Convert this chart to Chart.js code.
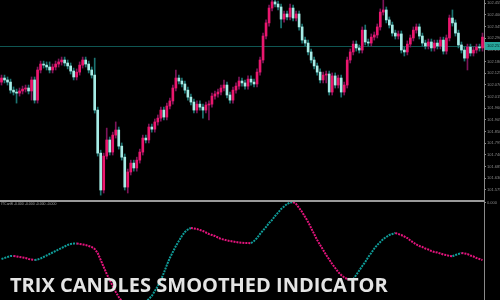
<!DOCTYPE html>
<html>
<head>
<meta charset="utf-8">
<script src="https://cdn.jsdelivr.net/npm/chart.js@4.4.0/dist/chart.umd.min.js"></script>
<style>
  html, body { margin: 0; padding: 0; background: #000; }
  #wrap { position: relative; width: 500px; height: 300px; overflow: hidden; background: #000; }
  #price { position: absolute; left: 0; top: 0; }
  #trix { position: absolute; left: 0; top: 200px; }
  #trix-label { position: absolute; left: 1px; top: 202px; font: 3.5px 'Liberation Sans', sans-serif; color: #a0a0a0; white-space: nowrap; }
  #caption { position: absolute; left: 10px; top: 275px; font: bold 20px 'Open Sans', sans-serif; line-height: 20px; color: #e4e4e4; letter-spacing: 0; white-space: nowrap; }
</style>
</head>
<body>
<div id="wrap">
  <canvas id="price" width="500" height="200"></canvas>
  <canvas id="trix" width="500" height="100"></canvas>
  <div id="trix-label">ITCanB -0.000 -0.000 -0.000 -0.000</div>
  <div id="caption">TRIX CANDLES SMOOTHED INDICATOR</div>
</div>
<script>
// price candles (one per bar, left to right)
const firstOpen = 102.083;
const closes = [
  102.102, 102.093, 102.083, 102.045, 102.036, 102.031, 102.041, 102.050, 102.055, 102.041,
  102.093, 101.998, 102.140, 102.168, 102.163, 102.154, 102.140, 102.154, 102.168, 102.178,
  102.187, 102.173, 102.159, 102.135, 102.107, 102.130, 102.163, 102.187, 102.168, 102.140,
  102.116, 101.951, 101.748, 101.574, 101.734, 101.810, 101.753, 101.833, 101.857, 101.781,
  101.729, 101.588, 101.659, 101.701, 101.678, 101.715, 101.753, 101.819, 101.810, 101.871,
  101.861, 101.895, 101.913, 101.951, 101.918, 101.970, 101.994, 102.055, 102.102, 102.088,
  102.074, 102.045, 102.012, 101.989, 101.951, 101.979, 101.965, 101.951, 101.975, 101.979,
  102.017, 102.027, 102.036, 102.055, 102.069, 102.022, 101.998, 102.045, 102.064, 102.088,
  102.079, 102.064, 102.097, 102.083, 102.074, 102.130, 102.187, 102.300, 102.362, 102.432,
  102.461, 102.451, 102.437, 102.380, 102.404, 102.390, 102.432, 102.385, 102.404, 102.343,
  102.281, 102.267, 102.225, 102.187, 102.159, 102.130, 102.093, 102.116, 102.121, 102.036,
  102.112, 102.069, 102.102, 102.036, 102.069, 102.187, 102.225, 102.262, 102.244, 102.234,
  102.328, 102.272, 102.267, 102.295, 102.305, 102.343, 102.413, 102.423, 102.376, 102.352,
  102.314, 102.300, 102.310, 102.234, 102.225, 102.262, 102.291, 102.328, 102.343, 102.300,
  102.267, 102.253, 102.272, 102.244, 102.267, 102.253, 102.281, 102.229, 102.291, 102.385,
  102.362, 102.314, 102.258, 102.234, 102.196, 102.248, 102.220, 102.234, 102.248, 102.244,
  102.295
];
const highs = [
  102.116, 102.116, 102.107, 102.097, 102.060, 102.050, 102.055, 102.064, 102.069, 102.069,
  102.107, 102.107, 102.154, 102.182, 102.182, 102.178, 102.178, 102.168, 102.182, 102.192,
  102.201, 102.201, 102.187, 102.173, 102.149, 102.145, 102.178, 102.201, 102.201, 102.182,
  102.154, 102.196, 101.965, 101.762, 101.748, 101.866, 101.824, 101.847, 101.895, 101.871,
  101.796, 101.744, 101.673, 101.715, 101.715, 101.729, 101.767, 101.833, 101.833, 101.885,
  101.885, 101.909, 101.928, 101.965, 101.965, 101.984, 102.008, 102.069, 102.140, 102.116,
  102.102, 102.088, 102.060, 102.027, 102.003, 101.994, 101.994, 101.979, 101.989, 101.994,
  102.031, 102.041, 102.050, 102.069, 102.093, 102.083, 102.036, 102.060, 102.079, 102.107,
  102.102, 102.093, 102.112, 102.112, 102.097, 102.145, 102.201, 102.314, 102.376, 102.446,
  102.470, 102.470, 102.465, 102.451, 102.418, 102.418, 102.451, 102.446, 102.418, 102.418,
  102.357, 102.295, 102.281, 102.239, 102.201, 102.173, 102.145, 102.130, 102.135, 102.135,
  102.126, 102.126, 102.116, 102.116, 102.083, 102.201, 102.239, 102.277, 102.277, 102.258,
  102.343, 102.352, 102.286, 102.310, 102.319, 102.357, 102.428, 102.470, 102.437, 102.390,
  102.366, 102.328, 102.324, 102.324, 102.248, 102.277, 102.305, 102.343, 102.357, 102.357,
  102.314, 102.281, 102.286, 102.286, 102.281, 102.281, 102.295, 102.295, 102.305, 102.399,
  102.423, 102.376, 102.328, 102.272, 102.248, 102.262, 102.262, 102.248, 102.262, 102.262,
  102.314
];
const lows = [
  102.069, 102.079, 102.069, 102.031, 102.022, 101.984, 102.017, 102.027, 102.036, 102.027,
  101.998, 101.984, 101.984, 102.126, 102.149, 102.140, 102.126, 102.126, 102.140, 102.154,
  102.163, 102.159, 102.145, 102.121, 102.093, 102.093, 102.116, 102.149, 102.154, 102.126,
  102.102, 101.937, 101.734, 101.550, 101.560, 101.720, 101.739, 101.739, 101.819, 101.767,
  101.715, 101.574, 101.560, 101.645, 101.663, 101.663, 101.701, 101.739, 101.796, 101.796,
  101.847, 101.847, 101.880, 101.899, 101.904, 101.904, 101.956, 101.979, 102.041, 102.074,
  102.060, 102.031, 101.998, 101.975, 101.937, 101.937, 101.951, 101.913, 101.937, 101.904,
  101.965, 102.003, 102.012, 102.022, 102.041, 102.008, 101.984, 101.984, 102.031, 102.050,
  102.064, 102.050, 102.050, 102.069, 102.060, 102.060, 102.116, 102.173, 102.286, 102.347,
  102.418, 102.437, 102.423, 102.338, 102.366, 102.376, 102.376, 102.371, 102.371, 102.328,
  102.267, 102.253, 102.211, 102.173, 102.145, 102.116, 102.079, 102.079, 102.079, 102.022,
  102.022, 102.055, 102.055, 102.012, 102.022, 102.055, 102.173, 102.211, 102.229, 102.220,
  102.220, 102.258, 102.253, 102.253, 102.281, 102.291, 102.328, 102.399, 102.362, 102.338,
  102.300, 102.286, 102.286, 102.220, 102.206, 102.211, 102.248, 102.277, 102.314, 102.286,
  102.253, 102.239, 102.239, 102.229, 102.229, 102.239, 102.239, 102.215, 102.215, 102.277,
  102.347, 102.300, 102.244, 102.220, 102.182, 102.140, 102.206, 102.206, 102.220, 102.229,
  102.229
];
const currentPrice = 102.253;
const priceTicks = [
  102.455, 102.400, 102.345, 102.290, 102.235, 102.180, 102.125, 102.070, 102.015,
  101.960, 101.905, 101.850, 101.795, 101.740, 101.685, 101.630, 101.575
];

// indicator window
const trix = [
  -0.00056, -0.00055, -0.00054, -0.00053, -0.00053, -0.000535, -0.00054, -0.000545, -0.00055, -0.00056,
  -0.000565, -0.00057, -0.000565, -0.000555, -0.00054, -0.000525, -0.00051, -0.000495, -0.00048, -0.000465,
  -0.00045, -0.000435, -0.00042, -0.00041, -0.000406, -0.000405, -0.00041, -0.000415, -0.00042, -0.00043,
  -0.00044, -0.00046, -0.0005, -0.00057, -0.00064, -0.00071, -0.00077, -0.00083, -0.00089, -0.00094,
  -0.00098, -0.00102, -0.00105, -0.00107, -0.00108, -0.001075, -0.00106, -0.00103, -0.00099, -0.00096,
  -0.00093, -0.00088, -0.00083, -0.00077, -0.0007, -0.00062, -0.00055, -0.00049, -0.00043, -0.00038,
  -0.00033, -0.00029, -0.000265, -0.00025, -0.000255, -0.00026, -0.00027, -0.00028, -0.000295, -0.00031,
  -0.00032, -0.00033, -0.000345, -0.00036, -0.000365, -0.000375, -0.00038, -0.000385, -0.00039, -0.000395,
  -0.000397, -0.0004, -0.000401, -0.000402, -0.00038, -0.00035, -0.00031, -0.000275, -0.00024, -0.0002,
  -0.00017, -0.00013, -0.000095, -0.00006, -0.000035, -0.00001, 0.000005, 0.00001, -0.00001, -0.00005,
  -0.00009, -0.00014, -0.00019, -0.00025, -0.00031, -0.00037, -0.00042, -0.00047, -0.00052, -0.000565,
  -0.00061, -0.00065, -0.00069, -0.00072, -0.000745, -0.00076, -0.00077, -0.00076, -0.00072, -0.000675,
  -0.00063, -0.00059, -0.00054, -0.0005, -0.000455, -0.00042, -0.00039, -0.00036, -0.00034, -0.00032,
  -0.00031, -0.0003, -0.00031, -0.00032, -0.000335, -0.00035, -0.000375, -0.000395, -0.000415, -0.00043,
  -0.00044, -0.000455, -0.000465, -0.00048, -0.00049, -0.000495, -0.000505, -0.000515, -0.00052, -0.00053,
  -0.000532, -0.00052, -0.00051, -0.0005, -0.000505, -0.00051, -0.000525, -0.000535, -0.00055, -0.00056,
  -0.00057
];
const trixTicks = [0];

const COLORS = {
  upBody: '#ea176e',
  upWick: '#7e1459',
  downBody: '#a6ece6',
  downWick: '#1c7472',
  trixUp: '#0f9c98',
  trixDown: '#e3147c',
  axis: '#8a8a8a',
  tickText: '#8c8c8c',
  priceLine: '#0f5552',
  priceBox: '#27a69c'
};

const labels = closes.map((_, i) => i);
const opens = [firstOpen, ...closes.slice(0, -1)];
const isUp = closes.map((c, i) => c >= opens[i]);

function rightAxis(min, max, tickValues) {
  return {
    position: 'right',
    min: min,
    max: max,
    afterBuildTicks: (scale) => { scale.ticks = tickValues.map(v => ({ value: v })); },
    afterFit: (scale) => { scale.width = 16; scale.paddingTop = 0; scale.paddingBottom = 0; },
    ticks: {
      autoSkip: false,
      padding: 1,
      color: COLORS.tickText,
      font: { family: 'Liberation Sans', size: 4 },
      callback: (v) => Number(v).toFixed(3)
    },
    grid: { drawOnChartArea: false, drawTicks: true, tickLength: 2, color: COLORS.axis },
    border: { display: true, color: COLORS.axis, width: 1 }
  };
}

const priceLinePlugin = {
  id: 'priceLine',
  beforeDatasetsDraw(chart) {
    const { ctx, chartArea, scales } = chart;
    const y = Math.round(scales.y.getPixelForValue(currentPrice)) + 0.5;
    ctx.save();
    ctx.strokeStyle = COLORS.priceLine;
    ctx.lineWidth = 1;
    ctx.beginPath();
    ctx.moveTo(0, y);
    ctx.lineTo(chartArea.right, y);
    ctx.stroke();
    ctx.restore();
  },
  afterDraw(chart) {
    const { ctx, chartArea, scales } = chart;
    const y = Math.round(scales.y.getPixelForValue(currentPrice));
    ctx.save();
    ctx.fillStyle = COLORS.priceBox;
    ctx.fillRect(chartArea.right + 1, y - 4, 16, 8);
    ctx.fillStyle = '#062222';
    ctx.font = '4px "Liberation Sans"';
    ctx.textBaseline = 'middle';
    ctx.fillText(currentPrice.toFixed(3), chartArea.right + 3, y);
    ctx.restore();
  }
};

const separatorPlugin = {
  id: 'separator',
  afterDatasetsDraw(chart) {
    const { ctx, chartArea } = chart;
    ctx.save();
    ctx.fillStyle = '#9a9a9a';
    ctx.fillRect(0, 0, chartArea.right, 2);
    ctx.restore();
  }
};

new Chart(document.getElementById('price'), {
  type: 'bar',
  data: {
    labels: labels,
    datasets: [
      {
        data: closes.map((c, i) => [opens[i], c]),
        backgroundColor: isUp.map(u => u ? COLORS.upBody : COLORS.downBody),
        barThickness: 2,
        minBarLength: 1,
        grouped: false
      },
      {
        data: highs.map((h, i) => [lows[i], h]),
        backgroundColor: isUp.map(u => u ? COLORS.upWick : COLORS.downWick),
        barThickness: 1,
        grouped: false
      }
    ]
  },
  options: {
    responsive: false,
    animation: false,
    devicePixelRatio: 1,
    layout: { padding: 0 },
    plugins: { legend: { display: false }, tooltip: { enabled: false } },
    scales: {
      x: { display: false, offset: true },
      y: rightAxis(101.527, 102.470, priceTicks)
    }
  },
  plugins: [priceLinePlugin]
});

new Chart(document.getElementById('trix'), {
  type: 'line',
  data: {
    labels: labels,
    datasets: [{
      data: trix,
      borderWidth: 2,
      borderDash: [2, 1],
      pointRadius: 0,
      tension: 0,
      segment: {
        borderColor: (c) => c.p1.parsed.y >= c.p0.parsed.y ? COLORS.trixUp : COLORS.trixDown
      }
    }]
  },
  options: {
    responsive: false,
    animation: false,
    devicePixelRatio: 1,
    layout: { padding: 0 },
    plugins: { legend: { display: false }, tooltip: { enabled: false } },
    scales: {
      x: { display: false, offset: true },
      y: rightAxis(-0.00097, 0.00003, trixTicks)
    }
  },
  plugins: [separatorPlugin]
});
</script>
</body>
</html>
